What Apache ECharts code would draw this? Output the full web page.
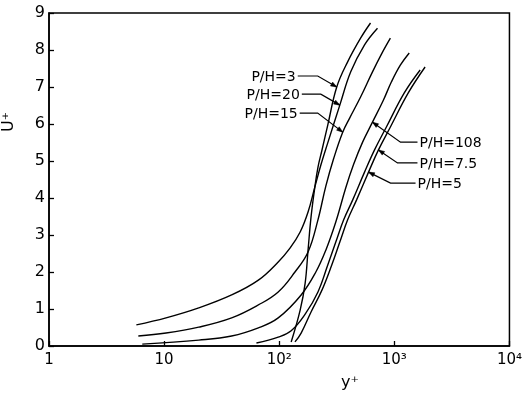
<!DOCTYPE html>
<html><head><meta charset="utf-8">
<script src="https://cdn.jsdelivr.net/npm/echarts/dist/echarts.min.js"></script>
<style>html,body{margin:0;padding:0;background:#fff}#c{width:525px;height:395px}</style>
</head><body><div id="c"></div>
<script>
// ---- data ----
const xTickValues = [1, 10, 100, 1000, 10000];
const xTickLabels = ['1', '10', '10²', '10³', '10⁴'];
const yTickLabels = ['0','1','2','3','4','5','6','7','8','9'];
const seriesNames = ['P/H=20', 'P/H=3', 'P/H=15', 'P/H=108', 'P/H=5', 'P/H=7.5'];

const ph20 = [[5.74,0.57],[10.4,0.76],[20,1.03],[38.6,1.38],[65.9,1.78],[98,2.27],[124.5,2.65],[152,3.08],[178,3.62],[204,4.30],[230,4.89],[264,5.49],[336,6.51],[418,7.41],[551,8.14],[714,8.59]];
const ph3 = [[127,0.11],[152,0.97],[168,1.70],[178,2.59],[189,3.49],[204,4.30],[217,4.83],[235,5.29],[264,5.97],[316,7.0],[393,7.68],[509,8.32],[621,8.73]];
const ph15 = [[5.97,0.27],[10.4,0.35],[20,0.51],[38.6,0.76],[65.9,1.11],[98,1.46],[137,2.0],[178,2.54],[217,3.41],[254,4.32],[298,5.08],[356,5.78],[409,6.16],[509,6.73],[646,7.41],[773,7.89],[924,8.32]];
const ph108 = [[6.46,0.05],[20,0.16],[38.6,0.27],[65.9,0.49],[98,0.76],[155,1.38],[208,2.0],[254,2.59],[310,3.35],[378,4.27],[443,4.91],[530,5.51],[646,6.05],[797,6.62],[944,7.14],[1127,7.59],[1347,7.92]];
const ph5 = [[63.4,0.08],[98,0.24],[127,0.41],[168,0.86],[217,1.46],[264,2.19],[310,2.81],[363,3.41],[435,3.95],[551,4.70],[673,5.30],[853,5.92],[1220,6.84],[1676,7.46]];
const ph75 = [[137,0.11],[155,0.35],[189,0.92],[235,1.51],[286,2.19],[336,2.81],[393,3.41],[470,3.95],[597,4.70],[728,5.30],[924,5.92],[1321,6.84],[1850,7.54]];

const seriesData = [ph20, ph3, ph15, ph108, ph5, ph75];

// annotation anchors: which label points at which data point
const labelAnchors = [
  {text: 'P/H=3',   series: 1, point: 9},
  {text: 'P/H=20',  series: 0, point: 12},
  {text: 'P/H=15',  series: 2, point: 11},
  {text: 'P/H=108', series: 3, point: 12},
  {text: 'P/H=7.5', series: 5, point: 9},
  {text: 'P/H=5',   series: 5, point: 8}
];
// leader geometry (pixel offsets from the tip) - layout only
const leaderLayout = [
  {elbow: [-19,-11], end: [-39,-11], side: 'left'},
  {elbow: [-19,-11], end: [-38,-11], side: 'left'},
  {elbow: [-25,-19], end: [-43,-19], side: 'left'},
  {elbow: [28,20], end: [45,20], side: 'right'},
  {elbow: [19,13], end: [39,13], side: 'right'},
  {elbow: [22,11], end: [47,11], side: 'right'}
];

const FONT = 'DejaVu Sans';
const chart = echarts.init(document.getElementById('c'), null, {renderer: 'canvas'});

chart.setOption({
  animation: false,
  backgroundColor: '#fff',
  grid: {left: 49, right: 12, top: 13, bottom: 49, show: true, borderColor: '#000', borderWidth: 1.5, backgroundColor: 'transparent'},
  xAxis: {
    type: 'log', logBase: 10, min: 1, max: 10000,
    axisLine: {lineStyle: {color: '#000', width: 1.5}},
    axisTick: {inside: true, length: 5, lineStyle: {color: '#000', width: 1.3}},
    minorTick: {show: false},
    splitLine: {show: false},
    axisLabel: {
      color: '#000', fontSize: 15, fontFamily: FONT, margin: 7,
      formatter: function (v) {
        const i = xTickValues.indexOf(Math.round(v));
        return i >= 0 ? xTickLabels[i] : '';
      }
    }
  },
  yAxis: {
    type: 'value', min: 0, max: 9, interval: 1,
    axisLine: {show: true, lineStyle: {color: '#000', width: 1.5}},
    axisTick: {inside: true, length: 5, lineStyle: {color: '#000', width: 1.3}},
    splitLine: {show: false},
    axisLabel: {color: '#000', fontSize: 16, fontFamily: FONT, margin: 4,
      formatter: function (v) { return yTickLabels[Math.round(v)]; }}
  },
  series: seriesData.map(function (d, i) {
    return {
      name: seriesNames[i], type: 'line', data: d, smooth: 0.4,
      showSymbol: false, silent: true,
      lineStyle: {color: '#000', width: 1.4}
    };
  })
});

const g = [];
labelAnchors.forEach(function (a, k) {
  const lay = leaderLayout[k];
  const tip = chart.convertToPixel({gridIndex: 0}, seriesData[a.series][a.point]);
  const el = [tip[0] + lay.elbow[0], tip[1] + lay.elbow[1]];
  const en = [tip[0] + lay.end[0], tip[1] + lay.end[1]];
  g.push({type: 'polyline', shape: {points: [en, el, tip]}, style: {stroke: '#000', lineWidth: 1.2, fill: null}, silent: true});
  const dx = tip[0] - el[0], dy = tip[1] - el[1];
  const L = Math.sqrt(dx*dx + dy*dy), ux = dx/L, uy = dy/L;
  const len = 6, w = 2.2;
  const bx = tip[0] - ux*len, by = tip[1] - uy*len;
  g.push({type: 'polygon', shape: {points: [tip, [bx - uy*w, by + ux*w], [bx + uy*w, by - ux*w]]}, style: {fill: '#000', stroke: '#000', lineWidth: 0.5}, silent: true});
  const left = lay.side === 'left';
  g.push({type: 'text', x: en[0] + (left ? -2 : 2), y: en[1] + 1, silent: true,
    style: {text: a.text, fill: '#000', font: '14px "' + FONT + '"',
      textAlign: left ? 'right' : 'left', align: left ? 'right' : 'left',
      textVerticalAlign: 'middle', verticalAlign: 'middle'}});
});
// axis names
g.push({type: 'text', x: 350, y: 383, silent: true,
  style: {text: 'y⁺', fill: '#000', font: '16px "' + FONT + '"', textAlign: 'center', align: 'center', textVerticalAlign: 'middle', verticalAlign: 'middle'}});
g.push({type: 'text', x: 9, y: 122, rotation: Math.PI / 2, silent: true,
  style: {text: 'Ū⁺', fill: '#000', font: '16px "' + FONT + '"', textAlign: 'center', align: 'center', textVerticalAlign: 'middle', verticalAlign: 'middle'}});
chart.setOption({graphic: g});
</script>
</body></html>
